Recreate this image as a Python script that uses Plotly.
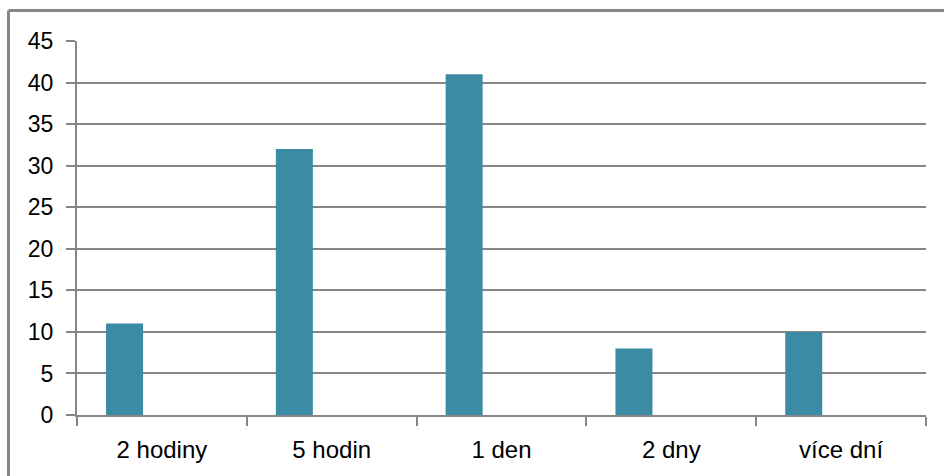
import plotly.graph_objects as go

categories = ["2 hodiny", "5 hodin", "1 den", "2 dny", "více dní"]
values = [11, 32, 41, 8, 10]
y_ticks = [0, 5, 10, 15, 20, 25, 30, 35, 40, 45]

W, H = 944, 476
L, R, T, B = 77, 18, 41, 61
grey = "#868686"

fig = go.Figure(
    go.Bar(
        x=categories,
        y=values,
        marker=dict(color="#3C8BA5", line=dict(width=0)),
        offset=-0.329,
        width=0.218,
    )
)

# outer frame lines (left and top), in paper units relative to the plot area
pw = W - L - R
ph = H - T - B
x_left = (8.5 - L) / pw
y_top = 1 + (T - 10.5) / ph
fig.add_shape(type="line", xref="paper", yref="paper",
              x0=x_left, x1=x_left, y0=-B / ph - 0.05, y1=y_top,
              line=dict(color=grey, width=3))
fig.add_shape(type="line", xref="paper", yref="paper",
              x0=x_left, x1=1 + R / pw + 0.05, y0=y_top, y1=y_top,
              line=dict(color=grey, width=3))

fig.update_layout(
    width=W,
    height=H,
    margin=dict(l=L, r=R, t=T, b=B),
    plot_bgcolor="white",
    paper_bgcolor="white",
    showlegend=False,
    font=dict(family="Liberation Sans, Arial, sans-serif", size=23, color="black"),
)
fig.update_xaxes(
    type="category",
    range=[-0.5, 4.5],
    showgrid=False,
    showline=True,
    linecolor=grey,
    linewidth=2,
    ticks="outside",
    tickson="boundaries",
    ticklen=9,
    tickwidth=2,
    tickcolor=grey,
    ticklabelstandoff=12,
    tickfont=dict(size=24),
)
fig.update_yaxes(
    range=[0, 45],
    tickvals=y_ticks,
    showgrid=True,
    gridcolor=grey,
    gridwidth=2,
    showline=True,
    linecolor=grey,
    linewidth=2,
    ticks="outside",
    ticklen=9,
    tickwidth=2,
    tickcolor=grey,
    ticklabelstandoff=8,
    zeroline=False,
)

fig.write_html("out.html")
